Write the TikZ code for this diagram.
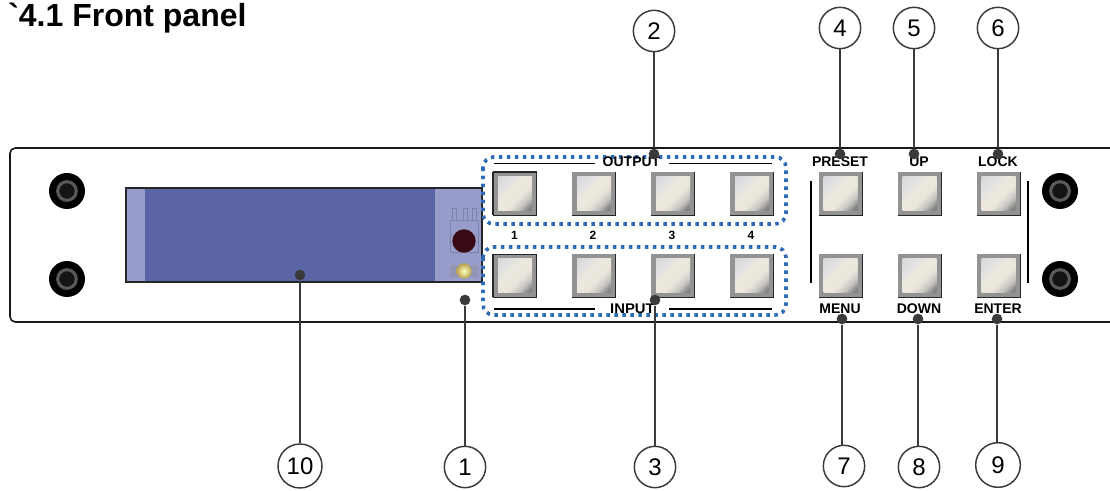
\documentclass[tikz,border=0pt]{standalone}
\usepackage{graphicx}
\usepackage{fontspec}
\setmainfont{Liberation Sans}
\newfontfamily\rawsans{Liberation Sans}
\definecolor{lcddark}{HTML}{5B65A5}
\definecolor{lcdlight}{HTML}{969DCB}
\definecolor{dotblue}{HTML}{2F6AB5}
\definecolor{btnrim}{HTML}{939393}
\definecolor{inkgrey}{HTML}{3A3A3A}
\definecolor{sensorline}{HTML}{7F83AC}
\definecolor{sensorpatch}{HTML}{9296B4}
\definecolor{irred}{HTML}{3A0A14}
\pgfdeclareverticalshading{btnface}{100bp}{
  rgb(0bp)=(0.42,0.42,0.42);
  rgb(20bp)=(0.52,0.52,0.52);
  rgb(30bp)=(0.78,0.77,0.76);
  rgb(42bp)=(0.92,0.90,0.86);
  rgb(58bp)=(0.93,0.91,0.87);
  rgb(72bp)=(0.88,0.88,0.89);
  rgb(100bp)=(0.80,0.80,0.82)}
\tikzset{
  screwouter/.style={circle,fill=black,minimum size=27pt,inner sep=0pt},
  screwring/.style={circle,draw=black!65,line width=2.3pt,fill=black!92,minimum size=14pt,inner sep=0pt},
  btnouter/.style={rectangle,fill=btnrim,minimum size=32.5pt,inner sep=0pt},
  btninner/.style={rectangle,shading=btnface,shading angle=45,minimum size=25.5pt,inner sep=0pt},
  btnedge/.style={black!85,line width=0.8pt},
  panelline/.style={black,line width=1.1pt},
  dotbox/.style={dotblue,line width=2.7pt,dash pattern=on 2.6pt off 3.4pt,rounded corners=8pt},
  keylabel/.style={font=\bfseries\fontsize{10.5}{12}\selectfont,inner sep=0pt},
  numlabel/.style={font=\bfseries\fontsize{9}{11}\selectfont,inner sep=0pt},
  callout/.style={circle,draw=inkgrey,line width=1.1pt,fill=white,minimum size=31pt,inner sep=0pt,font=\fontsize{18}{20}\selectfont},
  calldot/.style={circle,fill=inkgrey,minimum size=8pt,inner sep=0pt},
  calline/.style={inkgrey,line width=1pt},
}
\newcommand{\panelbtn}[3]{%
  \node[btnouter] (#1) at (#2,#3) {};
  \node[btninner] (#1face) at (#2,#3) {};
  \draw[btnedge] (#1.north east) -- (#1.south east) -- (#1.south west);
}
\newcommand{\panelscrew}[3]{%
  \node[screwouter] (#1) at (#2,#3) {};
  \node[screwring] (#1ring) at (#2,#3) {};
}
\begin{document}
\begin{tikzpicture}[x=0.75pt,y=-0.75pt]
\useasboundingbox (0,0) rectangle (1110,491);
\fill[white] (0,0) rectangle (1110,491);
\node[anchor=base west,inner sep=0pt,font=\rawsans\bfseries\fontsize{24}{28}\selectfont] (title) at (8,27) {`4.1 Front panel};
% panel
\draw[black!90,line width=1.2pt,rounded corners=4pt] (1114,148) -- (10,148) -- (10,322) -- (1114,322);
% screws
\panelscrew{s1}{67}{191}
\panelscrew{s2}{67}{279}
\panelscrew{s3}{1060}{191}
\panelscrew{s4}{1060}{279}
% display
\fill[lcddark] (126,188) rectangle (482,282);
\fill[lcdlight] (127,189) rectangle (145,281);
\fill[lcdlight] (435,189) rectangle (482,281);
\draw[black!85,line width=0.8pt] (126,188) rectangle (482,282);
\draw[sensorline,line width=0.7pt] (450,220) rectangle (478,252);
\foreach \px in {452,463,472}{\draw[sensorline,line width=0.7pt] (\px,220) -- (\px,208) -- (\px+4,208) -- (\px+4,220);}
\node[circle,fill=irred,minimum size=17.5pt,inner sep=0pt] (ir) at (464,241) {};
\fill[sensorpatch] (450,265) rectangle (478,277);
\node[circle,minimum size=11.5pt,inner sep=0pt,inner color=yellow!25!white,outer color=orange!40!yellow!60!black!70!white] (led) at (464,271) {};
% buttons
\panelbtn{o1}{515}{193.5}
\panelbtn{o2}{594}{193.5}
\panelbtn{o3}{673}{193.5}
\panelbtn{o4}{752}{193.5}
\panelbtn{i1}{515}{276}
\panelbtn{i2}{594}{276}
\panelbtn{i3}{673}{276}
\panelbtn{i4}{752}{276}
\panelbtn{k1}{840.5}{193.5}
\panelbtn{k2}{919.5}{193.5}
\panelbtn{k3}{998.5}{193.5}
\panelbtn{k4}{840.5}{276}
\panelbtn{k5}{919.5}{276}
\panelbtn{k6}{998.5}{276}
\draw[btnedge] (493,172) -- (537,172);
\draw[btnedge] (493,172) -- (493,215);
\draw[btnedge] (493,254.5) -- (537,254.5);
\draw[btnedge] (493,254.5) -- (493,297);
% rules
\draw[panelline] (494,163.5) -- (595,163.5);
\draw[panelline] (669,163.5) -- (772,163.5);
\draw[panelline] (494,309) -- (595,309);
\draw[panelline] (669,309) -- (772,309);
\draw[panelline] (811,181) -- (811,283);
\draw[panelline] (1028,181) -- (1028,283);
% dotted groups
\draw[dotbox] (483,157) rectangle (786,224);
\draw[dotbox] (483,247) rectangle (786,315);
% labels
\node[keylabel] (lout) at (631.5,162) {OUTPUT};
\node[keylabel] (lin) at (632.5,309) {\scalebox{1.06}[1]{INPUT}};
\node[numlabel] (n1) at (514.5,235) {1};
\node[numlabel] (n2) at (593,235) {2};
\node[numlabel] (n3) at (672,235) {3};
\node[numlabel] (n4) at (751,235) {4};
\node[keylabel] (lpreset) at (840,162) {PRESET};
\node[keylabel] (lup) at (919,162) {UP};
\node[keylabel] (llock) at (998,162) {LOCK};
\node[keylabel] (lmenu) at (840,309) {MENU};
\node[keylabel] (ldown) at (919,309) {DOWN};
\node[keylabel] (lenter) at (998,309) {ENTER};
% callouts
\node[callout] (c2) at (654,31) {2};
\node[callout] (c4) at (840,28) {4};
\node[callout] (c5) at (914,28) {5};
\node[callout] (c6) at (998,28) {6};
\node[callout,minimum size=33pt] (c10) at (300,466) {10};
\node[callout] (c1) at (465,467) {1};
\node[callout] (c3) at (655,467) {3};
\node[callout] (c7) at (844,466) {7};
\node[callout] (c8) at (919,467) {8};
\node[callout,minimum size=33.5pt] (c9) at (998,465) {9};
\node[calldot] (d2) at (654,154) {};
\node[calldot] (d4) at (840,154) {};
\node[calldot] (d5) at (914,154) {};
\node[calldot] (d6) at (998,154) {};
\node[calldot] (d10) at (300,275) {};
\node[calldot] (d1) at (465,300) {};
\node[calldot] (d3) at (655,300) {};
\node[calldot] (d7) at (842,319) {};
\node[calldot] (d8) at (918,319) {};
\node[calldot] (d9) at (997,319) {};
\foreach \n in {2,4,5,6}{\draw[calline] (c\n.south) -- (d\n);}
\foreach \n in {10,1,3,7,8,9}{\draw[calline] (d\n) -- (d\n |- c\n.north);}
\end{tikzpicture}
\end{document}
